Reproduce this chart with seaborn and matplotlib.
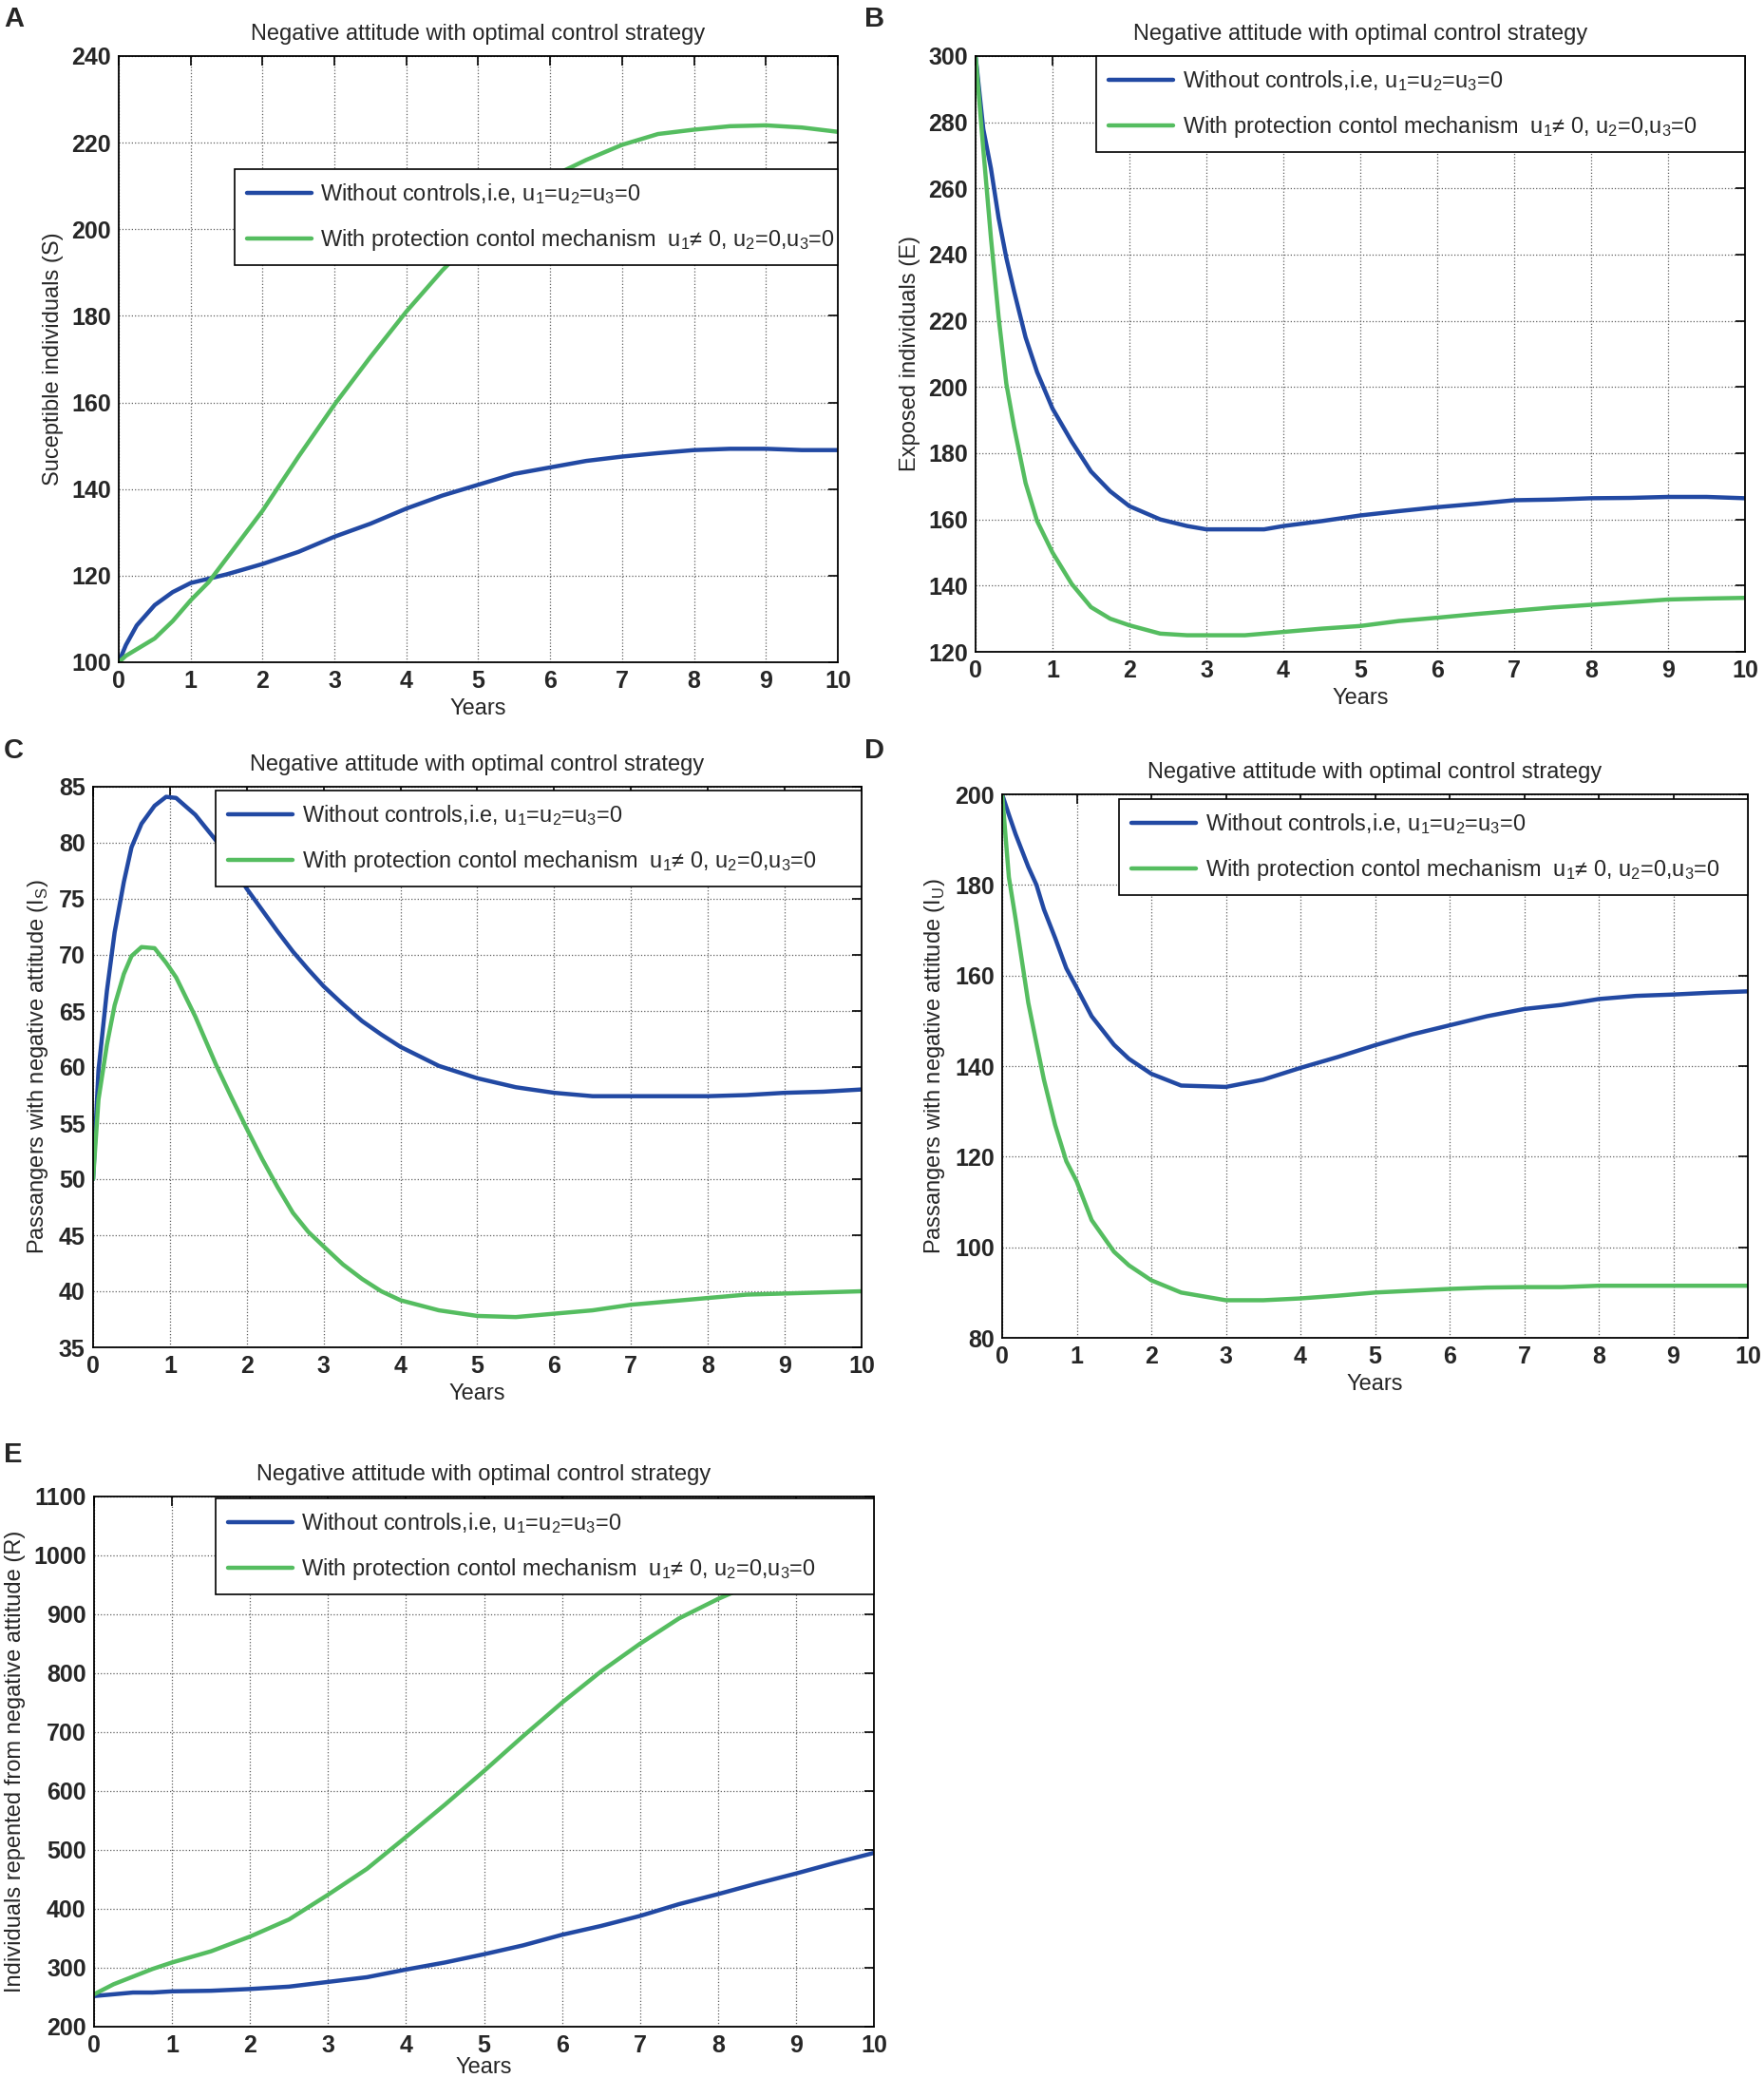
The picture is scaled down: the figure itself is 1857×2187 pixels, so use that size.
import numpy as np
import pandas as pd
import matplotlib
matplotlib.use("Agg")
import matplotlib.pyplot as plt
from matplotlib import font_manager as fm
import seaborn as sns

# ---------------- data ----------------
years_A = [0, 0.1, 0.25, 0.5, 0.75, 1, 1.25, 1.5, 1.75, 2, 2.5, 3, 3.5, 4, 4.5, 5, 5.5, 6, 6.5, 7, 7.5, 8, 8.5, 9, 9.5, 10]
S_no_control = [100, 104, 108.5, 113.2, 116.2, 118.3, 119.3, 120.3, 121.5, 122.7, 125.5, 129, 132, 135.5, 138.5, 141, 143.5, 145, 146.5, 147.5, 148.3, 149, 149.3, 149.3, 149, 149]
S_protection = [100, 101.5, 103, 105.5, 109.5, 114.3, 118.5, 124, 129.5, 135, 147.5, 159.5, 170.5, 181, 190.5, 199, 206, 212, 216, 219.5, 222, 223, 223.8, 224, 223.5, 222.5]

years_B = [0, 0.1, 0.2, 0.3, 0.4, 0.5, 0.65, 0.8, 1, 1.25, 1.5, 1.75, 2, 2.4, 2.75, 3, 3.5, 3.75, 4, 4.5, 5, 5.5, 6, 6.5, 7, 7.5, 8, 8.5, 9, 9.5, 10]
E_no_control = [300, 278, 266, 251, 239, 229, 215, 204.5, 193.5, 183.5, 174.5, 168.5, 164, 160, 158, 157, 157, 157, 158, 159.5, 161.2, 162.5, 163.7, 164.7, 165.8, 166, 166.4, 166.5, 166.8, 166.8, 166.4]
E_protection = [300, 272, 245, 221, 201, 188, 171, 159.5, 150, 140.5, 133.5, 130, 128, 125.5, 125, 125, 125, 125.5, 126, 127, 127.8, 129.3, 130.3, 131.4, 132.4, 133.4, 134.2, 135, 135.8, 136.1, 136.3]

years_C = [0, 0.07, 0.18, 0.28, 0.4, 0.5, 0.63, 0.8, 0.95, 1.08, 1.33, 1.6, 1.8, 2, 2.2, 2.4, 2.6, 2.8, 3, 3.25, 3.5, 3.75, 4, 4.5, 5, 5.5, 6, 6.5, 7, 7.5, 8, 8.5, 9, 9.5, 10]
IS_no_control = [50, 59.7, 66.8, 72, 76.5, 79.6, 81.7, 83.3, 84.1, 84, 82.5, 80.2, 78.1, 75.9, 74.0, 72.1, 70.3, 68.7, 67.2, 65.6, 64.1, 62.9, 61.8, 60.1, 59.0, 58.2, 57.7, 57.4, 57.4, 57.4, 57.4, 57.5, 57.7, 57.8, 58]
IS_protection = [50, 57.1, 62, 65.5, 68.3, 69.9, 70.7, 70.6, 69.3, 68, 64.5, 60.2, 57.3, 54.5, 51.8, 49.3, 47.0, 45.3, 44.0, 42.4, 41.1, 40.0, 39.2, 38.3, 37.8, 37.7, 38, 38.3, 38.8, 39.1, 39.4, 39.7, 39.8, 39.9, 40]

years_D = [0, 0.09, 0.18, 0.35, 0.46, 0.56, 0.71, 0.86, 1, 1.2, 1.5, 1.7, 2, 2.4, 3, 3.5, 4, 4.5, 5, 5.5, 6, 6.5, 7, 7.5, 8, 8.5, 9, 9.5, 10]
IU_no_control = [200, 195.5, 191.2, 184, 180, 174.6, 168.3, 161.6, 157.3, 151, 144.7, 141.6, 138.3, 135.7, 135.4, 137, 139.6, 142, 144.6, 147, 149, 151, 152.6, 153.5, 154.8, 155.5, 155.8, 156.2, 156.5]
IU_protection = [200, 181.7, 172.5, 154, 145, 137, 127, 119, 114.5, 106, 99, 96, 92.7, 90, 88.3, 88.3, 88.7, 89.3, 90, 90.4, 90.8, 91.1, 91.2, 91.2, 91.5, 91.5, 91.5, 91.5, 91.5]

years_E = [0, 0.25, 0.5, 0.75, 1, 1.5, 2, 2.5, 3, 3.5, 4, 4.5, 5, 5.5, 6, 6.5, 7, 7.5, 8, 8.5, 9, 9.5, 10]
R_no_control = [252, 255, 258, 258, 260, 261, 264, 268, 276, 284, 297, 309, 323, 338, 356, 371, 388, 408, 425, 443, 460, 478, 495]
R_protection = [255, 272, 285, 298, 309, 328, 353, 382, 424, 468, 522, 577, 634, 693, 750, 803, 850, 893, 926, 955, 985, 1005, 1020]

x_ticks = list(range(0, 11))
y_ticks_A = list(range(100, 241, 20))
y_ticks_B = list(range(120, 301, 20))
y_ticks_C = list(range(35, 86, 5))
y_ticks_D = list(range(80, 201, 20))
y_ticks_E = list(range(200, 1101, 100))

series_names = ["Without controls", "With protection"]

def sub(s):
    return r"$_{\mathregular{%s}}$" % s

legend_labels = [
    "Without controls,i.e, u" + sub("1") + "=u" + sub("2") + "=u" + sub("3") + "=0",
    "With protection contol mechanism  u" + sub("1") + "\u2260 0, u" + sub("2") + "=0,u" + sub("3") + "=0",
]
title_text = "Negative attitude with optimal control strategy"
x_label = "Years"
y_labels = {
    "A": "Suceptible individuals (S)",
    "B": "Exposed individuals (E)",
    "C": "Passangers with negative attitude (I" + sub("S") + ")",
    "D": "Passangers with negative attitude (I" + sub("U") + ")",
    "E": "Individuals repented from negative attitude (R)",
}

# ---------------- style ----------------
sns.set_theme(style="white")

def has_font(name):
    try:
        fm.findfont(fm.FontProperties(family=name), fallback_to_default=False)
        return True
    except Exception:
        return False

narrow = "Liberation Sans Narrow" if has_font("Liberation Sans Narrow") else "Liberation Sans"
plt.rcParams["font.family"] = [narrow, "Liberation Sans", "DejaVu Sans"]
plt.rcParams["mathtext.fontset"] = "custom"
plt.rcParams["mathtext.rm"] = narrow
plt.rcParams["axes.unicode_minus"] = False

BLUE = "#2249a3"
GREEN = "#55bd60"
palette = {series_names[0]: BLUE, series_names[1]: GREEN}

W, H = 1858, 2187
fig = plt.figure(figsize=(W / 100, H / 100), dpi=100)
fig.patch.set_facecolor("white")

panels = [
    # key, rect (px: left, top, right, bottom), x, y1, y2, ylim, yticks, legend (left frac, top frac)
    ("A", (125, 59, 882, 697), years_A, S_no_control, S_protection, (100, 240), y_ticks_A, (0.161, 0.8135)),
    ("B", (1027, 59, 1837, 686), years_B, E_no_control, E_protection, (120, 300), y_ticks_B, (0.157, 1.0)),
    ("C", (98, 828, 907, 1418), years_C, IS_no_control, IS_protection, (35, 85), y_ticks_C, (0.16, 0.993)),
    ("D", (1055, 836, 1840, 1408), years_D, IU_no_control, IU_protection, (80, 200), y_ticks_D, (0.157, 0.991)),
    ("E", (99, 1575, 920, 2133), years_E, R_no_control, R_protection, (200, 1100), y_ticks_E, (0.156, 0.996)),
]

letter_pos = {"A": (4, 6), "B": (910, 6), "C": (4, 776), "D": (910, 776), "E": (4, 1517)}
xlabel_pad = {"A": 4, "B": 4, "C": 4, "D": 4, "E": 0}

for key, (l, t, r, b), xs, y1, y2, ylim, yticks, (lg_left, lg_top) in panels:
    ax = fig.add_axes([l / W, 1 - b / H, (r - l) / W, (b - t) / H])
    df = pd.DataFrame({
        "Years": list(xs) + list(xs),
        "value": list(y1) + list(y2),
        "series": [series_names[0]] * len(xs) + [series_names[1]] * len(xs),
    })
    sns.lineplot(data=df, x="Years", y="value", hue="series", palette=palette,
                 hue_order=series_names, estimator=None, sort=True,
                 linewidth=3.2, legend=False, ax=ax)
    ax.set_xlim(0, 10)
    ax.set_ylim(*ylim)
    ax.set_xticks(x_ticks)
    ax.set_yticks(yticks)
    ax.grid(True, linestyle=":", color="#5f5f5f", linewidth=0.9)
    ax.set_axisbelow(True)
    for sp in ax.spines.values():
        sp.set_visible(True)
        sp.set_color("black")
        sp.set_linewidth(1.3)
    ax.tick_params(direction="in", top=True, right=True, length=7, width=1.2,
                   color="black", labelsize=18, pad=6)
    for lab in ax.get_xticklabels() + ax.get_yticklabels():
        lab.set_fontweight("bold")
    ax.set_xlabel(x_label, fontsize=17, labelpad=xlabel_pad[key])
    ax.set_ylabel(y_labels[key], fontsize=17, labelpad=6)
    ax.set_title(title_text, fontsize=17, pad=12)

    lines = ax.get_lines()[:2]
    leg = ax.legend(lines, legend_labels, loc="upper right",
                    bbox_to_anchor=(lg_left, lg_top - 0.2, 1 - lg_left, 0.2),
                    mode="expand", borderaxespad=0, fontsize=16.9,
                    frameon=True, fancybox=False, framealpha=1, edgecolor="black",
                    handlelength=2.9, handletextpad=0.4, labelspacing=0.95,
                    borderpad=0.55)
    leg.get_frame().set_linewidth(1.2)
    for lh in leg.get_lines():
        lh.set_linewidth(3.2)

    lx, ly = letter_pos[key]
    fig.text(lx / W, 1 - ly / H, key, fontsize=21, fontweight="bold",
             family=["Liberation Sans", "DejaVu Sans"], va="top", ha="left")

fig.savefig("out.png", dpi=100, facecolor="white")
